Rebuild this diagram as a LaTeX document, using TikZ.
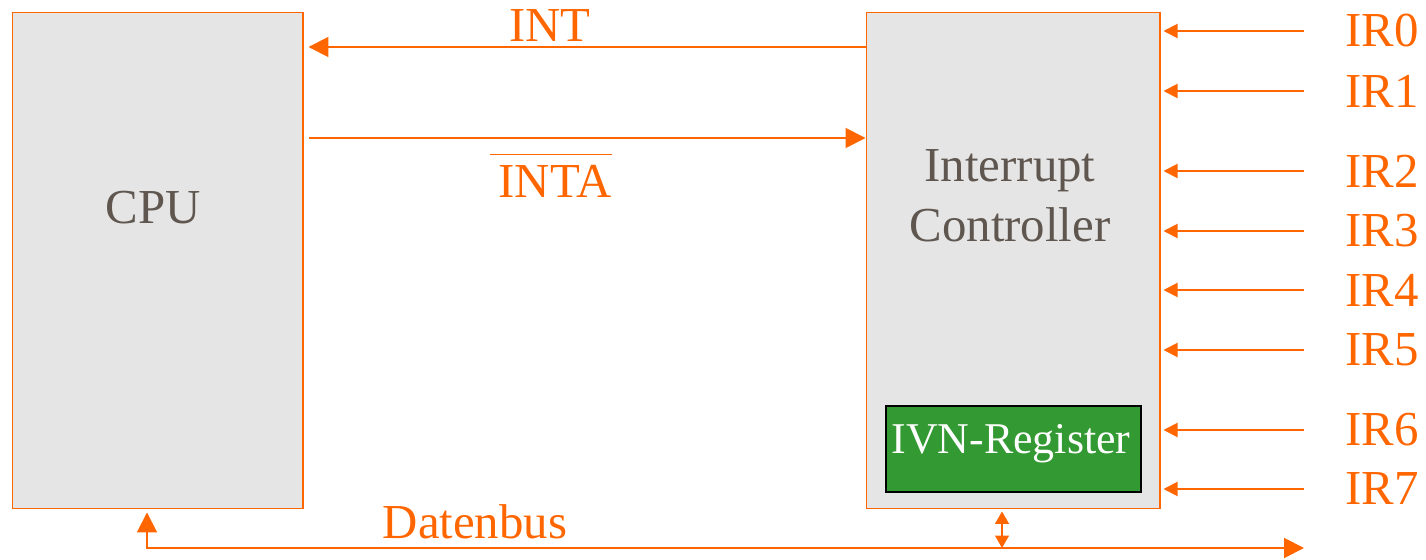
\documentclass[tikz,border=0pt]{standalone}
\usepackage{fontspec}
\setmainfont{Liberation Serif}
\usetikzlibrary{arrows.meta}

\definecolor{sigorange}{HTML}{FF6600}
\definecolor{boxgray}{HTML}{E5E5E5}
\definecolor{txtgray}{HTML}{5F574F}
\definecolor{ivngreen}{HTML}{339933}

\tikzset{
  unit/.style={draw=sigorange,line width=0.6pt,fill=boxgray,minimum width=5.82cm,minimum height=9.94cm,inner sep=0},
  sig/.style={sigorange,line width=1.1pt},
  bigtip/.tip={Triangle[length=0.4cm,width=0.4cm]},
  irtip/.tip={Triangle[length=0.28cm,width=0.28cm]},
  midtip/.tip={Triangle[length=0.25cm,width=0.28cm]},
  lbl/.style={sigorange,inner sep=0,font=\fontsize{27.8}{34}\selectfont},
  unitlbl/.style={txtgray,inner sep=0,align=center,font=\fontsize{27.8}{34}\selectfont}
}

\begin{document}
\begin{tikzpicture}[x=0.02cm,y=-0.02cm]
  \useasboundingbox (0,0) rectangle (1426,560);

  % the two units
  \node[unit] (cpu) at (157.5,260.5) {};
  \node[unit,minimum width=5.88cm] (ic) at (1013,260.5) {};
  \node[unitlbl] (cputxt) at (153,208) {CPU};
  \node[unitlbl] (ictxt) at (1010,196) {Interrupt\\Controller};
  \node[draw=black,line width=1.2pt,fill=ivngreen,minimum width=5.1cm,minimum height=1.72cm] (ivn) at (1013.5,449) {};
  \node[text=white,inner sep=0,font=\fontsize{25}{30}\selectfont] (ivntxt) at (1011,444) {IVN-Register};

  % INT / INTA
  \draw[sig,-bigtip,shorten >=0.1cm] (ic.west |- 0,47) -- (cpu.east |- 0,47);
  \draw[sig,-bigtip,shorten <=0.1cm] (cpu.east |- 0,138) -- (ic.west |- 0,138);
  \node[lbl] (int) at (550,26) {INT};
  \node[lbl] (inta) at (555,181) {INTA};
  \draw[sig] ([xshift=-0.16cm,yshift=0.2cm]inta.north west) -- ([yshift=0.2cm]inta.north east);

  % interrupt requests
  \foreach \i/\y in {0/31,1/91,2/171,3/231,4/290,5/350,6/430,7/489}{
    \node[lbl,anchor=west] (ir\i) at (1345,\y) {IR\i};
    \draw[sig,-irtip,shorten <=0.82cm,shorten >=0.06cm] (ir\i.west) -- (ir\i.west -| ic.east);
  }

  % data bus
  \coordinate (bustap) at (147,548);
  \coordinate (busend) at (1304,548);
  \coordinate (ictap) at (1002,548);
  \draw[sig,bigtip-bigtip,shorten <=0.06cm] (cpu.south -| bustap) -- (bustap) -- (busend);
  \draw[sig,midtip-midtip,line width=0.8pt,shorten <=0.04cm] (ic.south -| ictap) -- (ictap);
  \node[lbl] (bus) at (475,522) {Datenbus};
\end{tikzpicture}
\end{document}
